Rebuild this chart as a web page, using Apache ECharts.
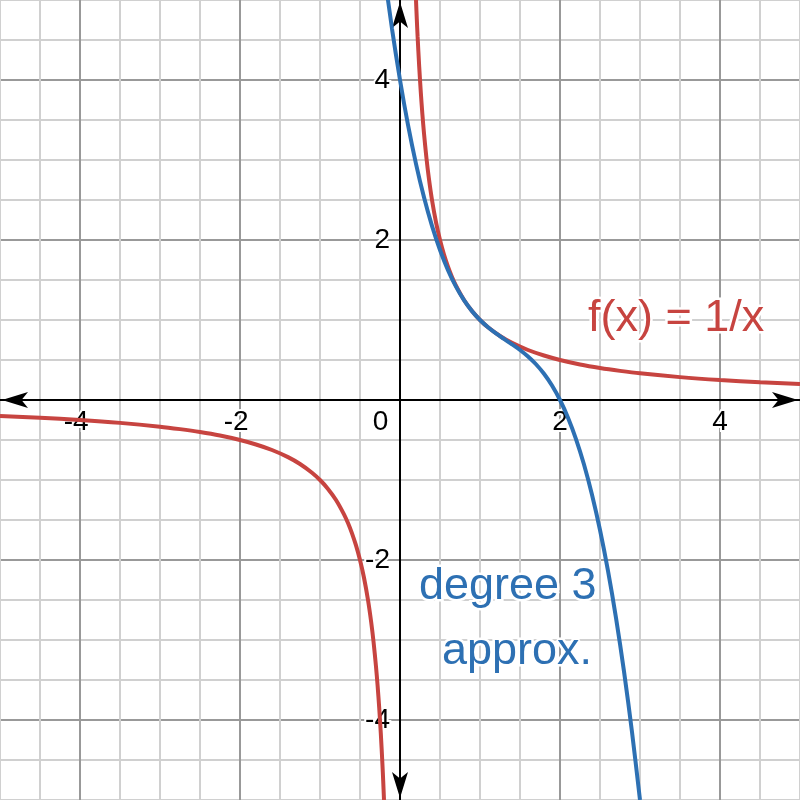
<!DOCTYPE html>
<html>
<head>
<meta charset="utf-8">
<script src="https://cdn.jsdelivr.net/npm/echarts@6/dist/echarts.min.js"></script>
<style>
html,body{margin:0;padding:0;background:#fff;}
#chart{width:800px;height:800px;}
</style>
</head>
<body>
<div id="chart"></div>
<script>
// ---- data ----
const redLeftX  = [-5, -4.5, -4, -3.5, -3, -2.75, -2.5, -2.25, -2, -1.8, -1.6, -1.4, -1.25, -1.1, -1, -0.9, -0.8, -0.7, -0.65, -0.6, -0.55, -0.5, -0.45, -0.4, -0.36, -0.33, -0.3, -0.28, -0.26, -0.24, -0.22, -0.21, -0.2];
const redLeftY  = [-0.2, -0.222, -0.25, -0.286, -0.333, -0.364, -0.4, -0.444, -0.5, -0.556, -0.625, -0.714, -0.8, -0.909, -1, -1.111, -1.25, -1.429, -1.538, -1.667, -1.818, -2, -2.222, -2.5, -2.778, -3.03, -3.333, -3.571, -3.846, -4.167, -4.545, -4.762, -5];
const redRightX = [0.2, 0.21, 0.22, 0.24, 0.26, 0.28, 0.3, 0.33, 0.36, 0.4, 0.45, 0.5, 0.55, 0.6, 0.65, 0.7, 0.8, 0.9, 1, 1.1, 1.25, 1.4, 1.6, 1.8, 2, 2.25, 2.5, 2.75, 3, 3.5, 4, 4.5, 5];
const redRightY = [5, 4.762, 4.545, 4.167, 3.846, 3.571, 3.333, 3.03, 2.778, 2.5, 2.222, 2, 1.818, 1.667, 1.538, 1.429, 1.25, 1.111, 1, 0.909, 0.8, 0.714, 0.625, 0.556, 0.5, 0.444, 0.4, 0.364, 0.333, 0.286, 0.25, 0.222, 0.2];
const blueX = [-0.2, -0.1, 0, 0.1, 0.2, 0.3, 0.4, 0.5, 0.6, 0.7, 0.8, 0.9, 1, 1.1, 1.2, 1.3, 1.4, 1.5, 1.6, 1.7, 1.8, 1.9, 2, 2.1, 2.2, 2.3, 2.4, 2.5, 2.6, 2.7, 2.8, 2.9, 3];
const blueY = [5.368, 4.641, 4, 3.439, 2.952, 2.533, 2.176, 1.875, 1.624, 1.417, 1.248, 1.111, 1, 0.909, 0.832, 0.763, 0.696, 0.625, 0.544, 0.447, 0.328, 0.181, 0, -0.221, -0.488, -0.807, -1.184, -1.625, -2.136, -2.723, -3.392, -4.149, -5];
const tickLabels = [-4, -2, 0, 2, 4];
const redLabel = 'f(x) = 1/x';
const blueLabel1 = 'degree 3';
const blueLabel2 = 'approx.';

// ---- styling ----
const RED = '#c74440', BLUE = '#2d70b3';
const MINOR = '#d0d0d0', MAJOR = '#999999';
const FONT = '"Liberation Sans", Arial, Helvetica, sans-serif';

function zip(xs, ys) { return xs.map((x, i) => [x, ys[i]]); }

const chart = echarts.init(document.getElementById('chart'), null, {renderer: 'canvas'});

const axisCommon = {
  type: 'value', min: -5, max: 5, interval: 0.5,
  axisTick: {show: false},
  splitLine: {show: true, lineStyle: {color: [MINOR, MINOR, MAJOR, MINOR], width: 2}},
  axisLine: {
    show: true, onZero: false,
    symbol: ['arrow', 'arrow'], symbolSize: [12, 26], symbolOffset: [2, -2],
    lineStyle: {color: '#000', width: 2}
  }
};
const labelStyle = {fontSize: 28, fontFamily: FONT, color: '#000', textBorderColor: '#fff', textBorderWidth: 4};

chart.setOption({
  animation: false,
  backgroundColor: '#fff',
  grid: {left: 0, right: 0, top: 0, bottom: 0, containLabel: false, outerBoundsMode: 'none'},
  xAxis: Object.assign({}, axisCommon, {
    position: 'bottom', offset: -400,
    axisLabel: Object.assign({}, labelStyle, {
      margin: 8,
      formatter: function (v) {
        if (tickLabels.indexOf(v) < 0) return '';
        if (v === 0) return '0     ';
        if (v < 0) return String(v) + ' ';
        return String(v);
      }
    })
  }),
  yAxis: Object.assign({}, axisCommon, {
    position: 'left', offset: -400,
    axisLabel: Object.assign({}, labelStyle, {
      margin: 10,
      formatter: function (v) {
        if (tickLabels.indexOf(v) < 0 || v === 0) return '';
        return String(v);
      }
    })
  }),
  series: [
    {type: 'line', data: zip(redLeftX, redLeftY), showSymbol: false, smooth: 0.3, z: 3,
     lineStyle: {color: RED, width: 4}, itemStyle: {color: RED}},
    {type: 'line', data: zip(redRightX, redRightY), showSymbol: false, smooth: 0.3, z: 3,
     lineStyle: {color: RED, width: 4}, itemStyle: {color: RED}},
    {type: 'line', data: zip(blueX, blueY), showSymbol: false, smooth: 0.3, z: 4,
     lineStyle: {color: BLUE, width: 4}, itemStyle: {color: BLUE}}
  ],
  graphic: [
    {type: 'text', z: 100, x: 588, y: 319,
     style: {text: redLabel, font: '45px ' + FONT, fill: RED, stroke: '#fff', lineWidth: 5, align: 'left', verticalAlign: 'middle'}},
    {type: 'text', z: 100, x: 419, y: 587,
     style: {text: blueLabel1, font: '45px ' + FONT, fill: BLUE, stroke: '#fff', lineWidth: 5, align: 'left', verticalAlign: 'middle'}},
    {type: 'text', z: 100, x: 442, y: 652,
     style: {text: blueLabel2, font: '45px ' + FONT, fill: BLUE, stroke: '#fff', lineWidth: 5, align: 'left', verticalAlign: 'middle'}}
  ]
});
</script>
</body>
</html>
